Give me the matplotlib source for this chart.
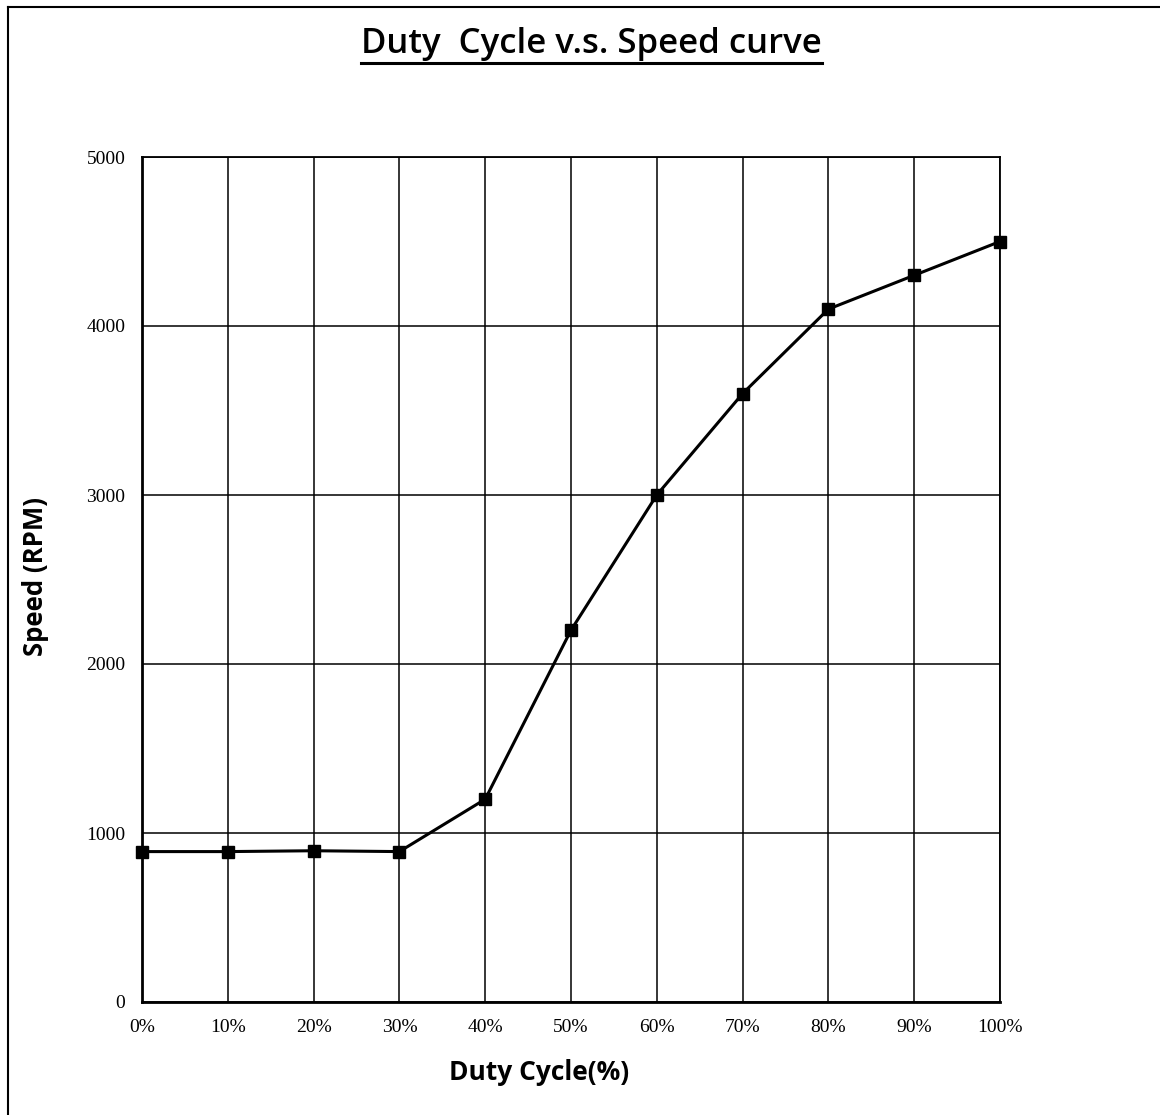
import matplotlib
matplotlib.use("Agg")
import matplotlib.pyplot as plt
from matplotlib.lines import Line2D

duty = [0, 10, 20, 30, 40, 50, 60, 70, 80, 90, 100]
speed = [890, 890, 895, 890, 1200, 2200, 3000, 3600, 4100, 4300, 4500]
x_labels = [f"{d}%" for d in duty]
y_ticks = [0, 1000, 2000, 3000, 4000, 5000]

W, H = 1160, 1115
fig = plt.figure(figsize=(W / 100, H / 100), dpi=100)
ax = fig.add_axes([142 / W, 1 - 1002 / H, 858 / W, 845 / H])

ax.plot(duty, speed, color="black", lw=2.2, marker="s", ms=9, zorder=3, clip_on=False)

ax.set_xlim(0, 100)
ax.set_ylim(0, 5000)
ax.set_xticks(duty)
ax.set_xticklabels(x_labels)
ax.set_yticks(y_ticks)
ax.grid(True, color="black", lw=1.1)
ax.tick_params(length=0)
ax.tick_params(axis="y", pad=12)
ax.tick_params(axis="x", pad=12)
for lab in ax.get_xticklabels() + ax.get_yticklabels():
    lab.set_fontfamily("Liberation Serif")
    lab.set_fontsize(14)
for s in ["left", "bottom"]:
    ax.spines[s].set_linewidth(2)
for s in ["top", "right"]:
    ax.spines[s].set_linewidth(1.3)

fig.text(36 / W, 1 - 577 / H, "Speed (RPM)", ha="center", va="center", rotation=90,
         fontfamily="Open Sans", fontweight="bold", fontsize=18.5)
fig.text(539 / W, 1 - 1073 / H, "Duty Cycle(%)", ha="center", va="center",
         fontfamily="Open Sans", fontweight="bold", fontsize=19)

# title with underline
fig.text(591 / W, 1 - 44 / H, "Duty  Cycle v.s. Speed curve", ha="center", va="center",
         fontfamily="Open Sans", fontweight="semibold", fontsize=25)
fig.add_artist(Line2D([361 / W, 822 / W], [1 - 63 / H, 1 - 63 / H], color="black", lw=2.2))

# frame partially visible at top and left
fig.add_artist(Line2D([8 / W, 8 / W], [0, 1 - 7 / H], color="black", lw=1.5))
fig.add_artist(Line2D([8 / W, 1], [1 - 7 / H, 1 - 7 / H], color="black", lw=1.5))

fig.savefig("out.png", dpi=100)
